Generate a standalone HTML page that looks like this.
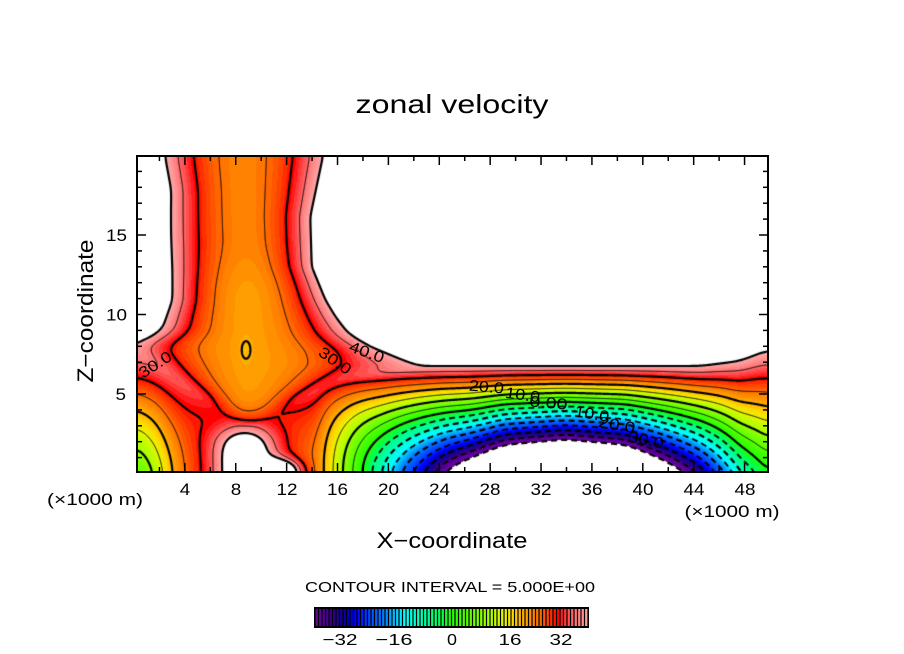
<!DOCTYPE html>
<html><head><meta charset="utf-8">
<style>
html,body{margin:0;padding:0;background:#fff;}
#wrap{position:relative;width:904px;height:654px;overflow:hidden;background:#fff;}
#c{position:absolute;left:137px;top:156px;}
#s{position:absolute;left:0;top:0;}
text{font-family:"Liberation Sans",sans-serif;fill:#000;}
</style></head><body><div id="wrap">
<canvas id="c" width="631" height="316"></canvas>
<svg id="s" width="904" height="654" xmlns="http://www.w3.org/2000/svg">
<g id="ticks" stroke="#000" stroke-width="1.5"></g>
<rect x="137" y="156" width="631" height="316" fill="none" stroke="#000" stroke-width="2"/>
<text x="452" y="113" font-size="26" text-anchor="middle" textLength="193" lengthAdjust="spacingAndGlyphs">zonal velocity</text>
<text x="452" y="548" font-size="22" text-anchor="middle" textLength="151" lengthAdjust="spacingAndGlyphs">X−coordinate</text>
<text transform="translate(93,311) rotate(-90)" font-size="22" text-anchor="middle" textLength="143" lengthAdjust="spacingAndGlyphs">Z−coordinate</text>
<g font-size="16.5" text-anchor="middle">
<text x="185" y="495" textLength="10.5" lengthAdjust="spacingAndGlyphs">4</text><text x="236" y="495" textLength="10.5" lengthAdjust="spacingAndGlyphs">8</text>
<text x="287" y="495" textLength="21" lengthAdjust="spacingAndGlyphs">12</text>
<text x="337.5" y="495" textLength="21" lengthAdjust="spacingAndGlyphs">16</text>
<text x="388.5" y="495" textLength="21" lengthAdjust="spacingAndGlyphs">20</text>
<text x="439.5" y="495" textLength="21" lengthAdjust="spacingAndGlyphs">24</text>
<text x="490" y="495" textLength="21" lengthAdjust="spacingAndGlyphs">28</text>
<text x="541" y="495" textLength="21" lengthAdjust="spacingAndGlyphs">32</text>
<text x="592" y="495" textLength="21" lengthAdjust="spacingAndGlyphs">36</text>
<text x="643" y="495" textLength="21" lengthAdjust="spacingAndGlyphs">40</text>
<text x="694" y="495" textLength="21" lengthAdjust="spacingAndGlyphs">44</text>
<text x="745" y="495" textLength="21" lengthAdjust="spacingAndGlyphs">48</text>
<text x="95" y="505" textLength="96" lengthAdjust="spacingAndGlyphs">(×1000 m)</text>
<text x="732" y="517" textLength="95" lengthAdjust="spacingAndGlyphs">(×1000 m)</text>
</g>
<g font-size="16.5" text-anchor="end">
<text x="126" y="400" textLength="10.5" lengthAdjust="spacingAndGlyphs">5</text>
<text x="127" y="320.5" textLength="21" lengthAdjust="spacingAndGlyphs">10</text>
<text x="127" y="241" textLength="21" lengthAdjust="spacingAndGlyphs">15</text>
</g>
<text x="450" y="592" font-size="15" text-anchor="middle" textLength="290" lengthAdjust="spacingAndGlyphs">CONTOUR INTERVAL = 5.000E+00</text>
<rect x="314" y="607" width="275" height="21" fill="#000"/>
<g id="cbar"></g>
<g font-size="16" text-anchor="middle">
<text x="340" y="645" textLength="35" lengthAdjust="spacingAndGlyphs">−32</text>
<text x="394" y="645" textLength="37" lengthAdjust="spacingAndGlyphs">−16</text>
<text x="452" y="645" textLength="10" lengthAdjust="spacingAndGlyphs">0</text>
<text x="510" y="645" textLength="23" lengthAdjust="spacingAndGlyphs">16</text>
<text x="561" y="645" textLength="23" lengthAdjust="spacingAndGlyphs">32</text>
</g>
<g font-size="15.5" text-anchor="middle">
<text transform="translate(158,369) rotate(-33)" textLength="36" lengthAdjust="spacingAndGlyphs">30.0</text>
<text transform="translate(365,357) rotate(20)" textLength="36" lengthAdjust="spacingAndGlyphs">40.0</text>
<text transform="translate(332,365) rotate(35)" textLength="36" lengthAdjust="spacingAndGlyphs">30.0</text>
<text transform="translate(486,392) rotate(5)" textLength="35" lengthAdjust="spacingAndGlyphs">20.0</text>
<text transform="translate(522,400) rotate(8)" textLength="35" lengthAdjust="spacingAndGlyphs">10.0</text>
<text transform="translate(548,408) rotate(5)" textLength="38" lengthAdjust="spacingAndGlyphs">0.00</text>
<text transform="translate(591,419) rotate(10)" textLength="35" lengthAdjust="spacingAndGlyphs">10.0</text>
<text transform="translate(616,430) rotate(10)" textLength="37" lengthAdjust="spacingAndGlyphs">20.0</text>
<text transform="translate(645,445) rotate(12)" textLength="36" lengthAdjust="spacingAndGlyphs">30.0</text>
</g>
</svg>
</div>
<script>
(function(){
const W=631,H=316,PX=137,PY=156;
const NS="http://www.w3.org/2000/svg";
function lerpTab(t,x){if(x<=t[0][0])return t[0][1];for(let i=1;i<t.length;i++){if(x<=t[i][0]){const a=t[i-1],b=t[i];return a[1]+(b[1]-a[1])*(x-a[0])/(b[0]-a[0]);}}return t[t.length-1][1];}
function smoothArr(a,r){for(let p=0;p<3;p++){const n=a.length;const b=new Float64Array(n);for(let i=0;i<n;i++){let s=0,c=0;for(let k=-r;k<=r;k++){const ii=Math.min(n-1,Math.max(0,i+k));s+=a[ii];c++;}b[i]=s/c;}a=b;}return a;}
function colArr(t,r){let a=new Float64Array(W);for(let i=0;i<W;i++)a[i]=lerpTab(t,PX+i+0.5);return smoothArr(a,r);}
function rowArr(t,r){let a=new Float64Array(H);for(let j=0;j<H;j++){const h=472-(PY+j+0.5);a[j]=lerpTab(t,h);}return smoothArr(a,r);}
function ss(e0,e1,x){let t=(x-e0)/(e1-e0);t=Math.max(0,Math.min(1,t));return t*t*(3-2*t);}
function smin(a,b,k){const h=Math.max(0,Math.min(1,0.5+0.5*(b-a)/k));return b+(a-b)*h-k*h*(1-h);}
const UB=colArr([[137,5],[153,10],[172,20],[185,25],[200,27],[300,26],[317,24],[323,20],[333,15],[343,10],[390,-14],[447,-40],[505,-63],[565,-70],[625,-63],[683,-40],[700,-33],[720,-22],[740,-10],[768,0]],5);
const HT=colArr([[137,125],[180,118],[250,112],[330,106],[700,106],[740,111],[768,122]],6);
const Q=colArr([[137,1.2],[170,1.4],[200,2.0],[330,2.2],[380,1.5],[470,1.1],[768,1.1]],8);
const WL=rowArr([[0,45],[60,45],[75,55],[95,85],[115,110],[125,118],[134,99],[142,86],[172,75],[239,74],[282,72],[316,77]],4);
const WR=rowArr([[0,50],[60,50],[75,65],[95,110],[107,140],[120,133],[130,114],[139,100],[155,88],[172,78],[205,65],[255,66],[316,81]],3);
const XC=rowArr([[0,250],[200,247],[260,244],[316,242]],4);
const F=new Float64Array(W*H);
for(let j=0;j<H;j++){const Y=PY+j+0.5,h=472-Y;
 const wl=WL[j],wr=WR[j],xc=XC[j];
 const c=23.5-2*ss(235,170,h);
 const cut=1.6*Math.exp(Math.min(50,(69-h)/10));
 const kh=(h-115)/25;
 for(let i=0;i<W;i++){const X=PX+i+0.5;
  const ub=UB[i],ht=HT[i],q=Q[i];
  let lo=ub+(40-ub)*Math.pow(Math.max(h,0)/ht,q);
  const d1=(X-245)/32,v1=h/44;lo+=22*Math.exp(-d1*d1-v1*v1*v1*v1);
  const d2=(X-280)/20,v2=h/12;lo+=24*Math.exp(-d2*d2-v2*v2);
  const d=X-xc;
  const t=d/(d<0?wl:wr);
  const dx=(X-246)/6,dh=(h-122)/12;
  const co=c+(40-c)*t*t+cut-2.6*Math.exp(-dx*dx-dh*dh);
  const kx=(X-400)/70;
  const k=5+15*Math.exp(-kx*kx-kh*kh);
  F[j*W+i]=smin(co,lo,k);
 }}
const stops=[[-40,110,10,170],[-37,90,0,150],[-33,40,0,130],[-30,0,0,175],[-27,0,0,255],[-24,0,64,255],[-19,0,128,255],[-13.5,0,255,255],[-8.5,0,255,176],[-4,0,255,96],[0,32,255,0],[6,100,255,0],[11,170,255,0],[15,230,245,0],[17.5,255,215,0],[21,255,165,0],[25,255,110,0],[28,255,60,0],[30.5,255,0,0],[33,255,70,70],[36,255,125,125],[40,255,175,175]];
function cmap(v){if(v<=stops[0][0])return stops[0].slice(1);for(let i=1;i<stops.length;i++){if(v<=stops[i][0]){const a=stops[i-1],b=stops[i];const t=(v-a[0])/(b[0]-a[0]);return [Math.round(a[1]+(b[1]-a[1])*t),Math.round(a[2]+(b[2]-a[2])*t),Math.round(a[3]+(b[3]-a[3])*t)];}}return stops[stops.length-1].slice(1);}
const cv=document.getElementById('c');const ctx=cv.getContext('2d');
const img=ctx.createImageData(W,H);const D=img.data;
const LUT=[];for(let b=-40;b<40;b++)LUT.push(cmap(b+0.5));
for(let k=0;k<W*H;k++){const u=F[k];let col;if(u>=40||u<-40)col=[255,255,255];else col=LUT[Math.floor(u)+40];D[k*4]=col[0];D[k*4+1]=col[1];D[k*4+2]=col[2];D[k*4+3]=255;}
ctx.putImageData(img,0,0);
function trace(L){
 const pts=new Map(),adj=new Map();
 const ep=(id)=>{if(pts.has(id))return;const k=id>>1,i=k%W,j=(k-i)/W;let x,y;
  if(id&1){const a=F[k],b=F[k+W];x=i+.5;y=j+.5+(L-a)/(b-a);}else{const a=F[k],b=F[k+1];x=i+.5+(L-a)/(b-a);y=j+.5;}pts.set(id,[x,y]);};
 const link=(a,b)=>{ep(a);ep(b);let la=adj.get(a);if(!la){la=[];adj.set(a,la);}la.push(b);let lb=adj.get(b);if(!lb){lb=[];adj.set(b,lb);}lb.push(a);};
 for(let j=0;j<H-1;j++)for(let i=0;i<W-1;i++){
  const k=j*W+i;const a=F[k],b=F[k+1],c=F[k+W+1],d=F[k+W];
  const idx=(a>L?8:0)|(b>L?4:0)|(c>L?2:0)|(d>L?1:0);
  if(idx===0||idx===15)continue;
  const T=k*2,B=(k+W)*2,Lf=k*2+1,R=(k+1)*2+1;
  switch(idx){
   case 1:case 14:link(Lf,B);break;
   case 2:case 13:link(B,R);break;
   case 3:case 12:link(Lf,R);break;
   case 4:case 11:link(T,R);break;
   case 6:case 9:link(T,B);break;
   case 7:case 8:link(T,Lf);break;
   case 5:{const ce=(a+b+c+d)/4;if(ce>L){link(T,Lf);link(B,R);}else{link(T,R);link(Lf,B);}break;}
   case 10:{const ce=(a+b+c+d)/4;if(ce>L){link(T,R);link(Lf,B);}else{link(T,Lf);link(B,R);}break;}
  }}
 const used=new Set();const lines=[];
 const walk=(s)=>{const line=[pts.get(s)];used.add(s);let cur=s;
  while(true){const nb=adj.get(cur);let nx=-1;for(const n of nb){if(!used.has(n)){nx=n;break;}}if(nx<0)break;used.add(nx);line.push(pts.get(nx));cur=nx;}return line;};
 for(const [id,nb] of adj){if(nb.length===1&&!used.has(id))lines.push(walk(id));}
 for(const [id,nb] of adj){if(!used.has(id)){const ln=walk(id);ln.push(ln[0]);lines.push(ln);}}
 return lines;
}
ctx.strokeStyle='#000';ctx.lineJoin='round';
for(let L=-40;L<=40;L+=5){
 const lines=trace(L);
 const thick=(L%10===0);
 if(L<0){ctx.setLineDash([6,4]);ctx.lineCap='butt';ctx.lineWidth=thick?2.2:1.8;}
 else{ctx.setLineDash([]);ctx.lineCap='round';ctx.lineWidth=thick?2.2:1;}
 for(const ln of lines){if(ln.length<2)continue;ctx.beginPath();ctx.moveTo(ln[0][0],ln[0][1]);for(let m=1;m<ln.length;m++)ctx.lineTo(ln[m][0],ln[m][1]);ctx.stroke();}
}
ctx.setLineDash([]);
const tg=document.getElementById('ticks');
function ln(x1,y1,x2,y2){const e=document.createElementNS(NS,'line');e.setAttribute('x1',x1);e.setAttribute('y1',y1);e.setAttribute('x2',x2);e.setAttribute('y2',y2);tg.appendChild(e);}
for(let v=2;v<=48;v+=2){const X=134+12.72*v;const l=(v%4===0)?9:5;ln(X,472,X,472-l);ln(X,156,X,156+l);}
for(let z=1;z<=19;z++){const Y=473.5-15.9*z;const l=(z%5===0)?9:5;ln(137,Y,137+l,Y);ln(768,Y,768-l,Y);}
const cb=document.getElementById('cbar');
for(let k=0;k<78;k++){const v=-39+k;const c=cmap(v+0.5);const r=document.createElementNS(NS,'rect');
 r.setAttribute('x',(315.6+k*3.5).toFixed(2));r.setAttribute('y','609');r.setAttribute('width','2.3');r.setAttribute('height','17');
 r.setAttribute('fill','rgb('+c[0]+','+c[1]+','+c[2]+')');cb.appendChild(r);}
})();
</script>
</body></html>
